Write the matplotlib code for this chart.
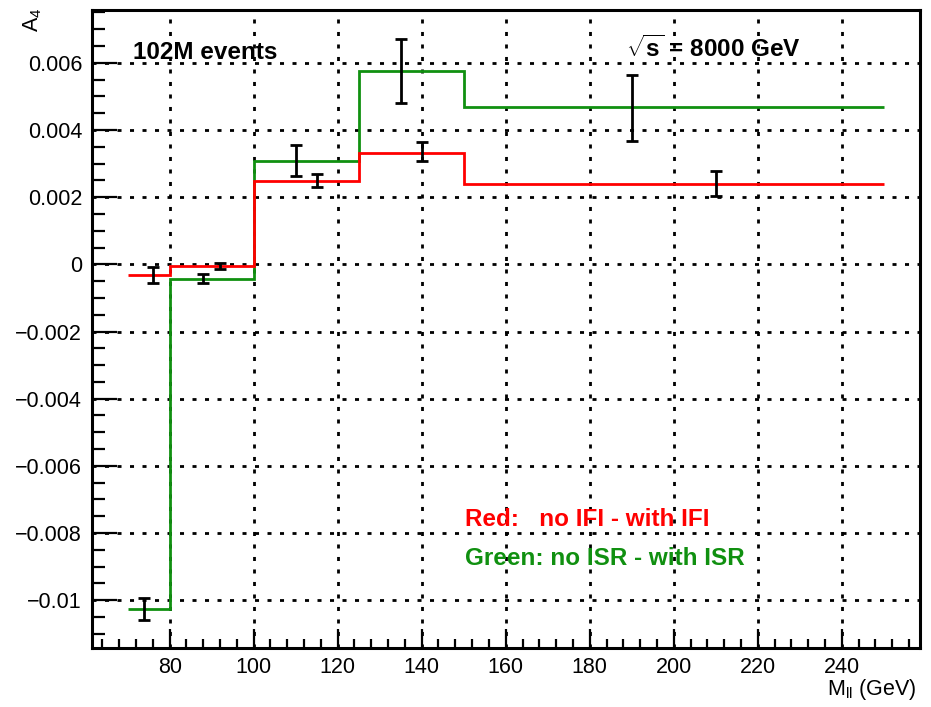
import matplotlib
matplotlib.use("Agg")
import matplotlib.pyplot as plt
from matplotlib.ticker import MultipleLocator, FixedLocator, FixedFormatter

# Bin edges of the invariant-mass histograms (GeV)
edges = [70, 80, 100, 125, 150, 250]
# A4 differences per bin
red_vals = [-0.00032, -0.00004, 0.00248, 0.00331, 0.00239]      # no IFI - with IFI
green_vals = [-0.01025, -0.00044, 0.00309, 0.00575, 0.00467]    # no ISR - with ISR

# Points with statistical uncertainties
red_x = [76, 92, 115, 140, 210]
red_y = [-0.00033, -0.00005, 0.00249, 0.00335, 0.00241]
red_err = [0.00024, 0.00008, 0.00020, 0.00028, 0.00037]
green_x = [74, 88, 110, 135, 190]
green_y = [-0.01027, -0.00042, 0.00309, 0.00575, 0.00466]
green_err = [0.00033, 0.00013, 0.00045, 0.00096, 0.00099]

xticks = [80, 100, 120, 140, 160, 180, 200, 220, 240]
yticks = [-0.01, -0.008, -0.006, -0.004, -0.002, 0, 0.002, 0.004, 0.006]
ytick_labels = ["\u22120.01", "\u22120.008", "\u22120.006", "\u22120.004", "\u22120.002",
                "0", "0.002", "0.004", "0.006"]

RED = "#ff0000"
GREEN = "#109010"

plt.rcParams["font.family"] = ["Liberation Sans", "DejaVu Sans"]
plt.rcParams["mathtext.fontset"] = "custom"
plt.rcParams["mathtext.rm"] = "Liberation Sans"
plt.rcParams["mathtext.it"] = "Liberation Sans:italic"
plt.rcParams["mathtext.bf"] = "Liberation Sans:bold"
plt.rcParams["lines.scale_dashes"] = False

W, H = 931, 707
fig = plt.figure(figsize=(W / 100, H / 100), dpi=100)

# frame in pixel coordinates
left, right, top, bottom = 91.5, 919.5, 10.0, 648.3
ax = fig.add_axes([left / W, 1 - bottom / H, (right - left) / W, (bottom - top) / H])

ax.set_xlim(61.4, 258.5)
ax.set_ylim(-0.01143, 0.00757)

# dotted grid at the major ticks
ax.set_axisbelow(True)
ax.grid(True, which="major", color="black", linewidth=2.0,
        linestyle=(0, (2.9, 6.1)))

ax.stairs(green_vals, edges, color=GREEN, linewidth=2.0, baseline=None, zorder=3)
ax.stairs(red_vals, edges, color=RED, linewidth=2.0, baseline=None, zorder=4)

for xs, ys, es in ((red_x, red_y, red_err), (green_x, green_y, green_err)):
    ax.errorbar(xs, ys, yerr=es, fmt="none", ecolor="black", elinewidth=2.0,
                capsize=4.3, capthick=2.0, zorder=5)

ax.xaxis.set_major_locator(FixedLocator(xticks))
ax.xaxis.set_minor_locator(MultipleLocator(4))
ax.yaxis.set_major_locator(FixedLocator(yticks))
ax.yaxis.set_major_formatter(FixedFormatter(ytick_labels))
ax.yaxis.set_minor_locator(MultipleLocator(0.0005))

ax.tick_params(axis="both", which="both", direction="in", top=False, right=False,
               width=1.6, color="black", labelsize=15.5)
ax.tick_params(axis="x", which="major", length=13.7, pad=6.0)
ax.tick_params(axis="x", which="minor", length=6.8)
ax.tick_params(axis="y", which="major", length=18, pad=6.8)
ax.tick_params(axis="y", which="minor", length=9)

for sp in ax.spines.values():
    sp.set_linewidth(2.2)

def px(x, y):
    return x / W, 1 - y / H

fig.text(*px(133, 59), "102M events", fontsize=17.5, fontweight="bold",
         va="baseline", ha="left")
fig.text(*px(626, 57.3), r"$\mathbf{\sqrt{s}}$ = 8000 GeV", fontsize=17.5,
         fontweight="bold", va="baseline", ha="left")
fig.text(*px(465, 526.5), "Red:   no IFI - with IFI", fontsize=17.5,
         fontweight="bold", color=RED, va="baseline", ha="left")
fig.text(*px(465, 565), "Green: no ISR - with ISR", fontsize=17.5,
         fontweight="bold", color=GREEN, va="baseline", ha="left")

fig.text(*px(33, 8), r"A$_{4}$", fontsize=15.5, rotation=90, ha="center", va="top")
fig.text(*px(916, 695), r"M$_{\rm ll}$ (GeV)", fontsize=15.5, ha="right", va="baseline")

fig.savefig("out.png", dpi=100)
